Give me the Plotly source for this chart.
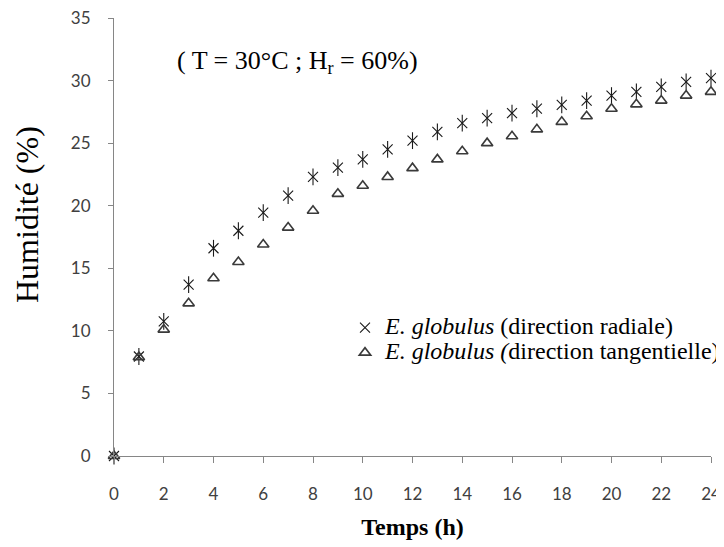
import plotly.graph_objects as go

hours = list(range(0, 25))
radiale = [0.0, 7.95, 10.75, 13.7, 16.6, 18.0, 19.45, 20.8, 22.3, 23.05, 23.7, 24.5,
           25.2, 25.9, 26.6, 27.0, 27.4, 27.75, 28.05, 28.4, 28.8, 29.1, 29.5, 29.9, 30.2]
tangentielle = [0.0, 7.9, 10.1, 12.2, 14.2, 15.5, 16.9, 18.25, 19.6, 20.95, 21.6, 22.3,
                23.0, 23.7, 24.35, 25.0, 25.55, 26.1, 26.7, 27.15, 27.75, 28.1, 28.4, 28.8, 29.1]
x_ticks = list(range(0, 25, 2))
y_ticks = list(range(0, 36, 5))

SPAN = "<span style='font-size:24px'>{}</span>"
name_rad = SPAN.format("<i>E. globulus</i> (direction radiale)")
name_tan = SPAN.format("<i>E. globulus (</i>direction tangentielle)")

# The page body has an 8px default margin, so the figure is drawn 8px in and
# sized to fill the rest of the 724x547 window.
OFF = 8
W, H = 724 - OFF, 547 - OFF
# plot area in window pixels
PL, PR, PT, PB = 114, 711, 18, 456
L, R, T, B = PL - OFF, W - (PR - OFF), PT - OFF, H - (PB - OFF)
PW, PH = PR - PL, PB - PT


def px_x(p):
    return (p - PL) / PW


def px_y(p):
    return (PB - p) / PH


fig = go.Figure()
fig.add_trace(go.Scatter(
    x=hours, y=radiale, mode="markers", name=name_rad, legendgroup="rad",
    marker=dict(symbol="x-thin-open", size=10, color="#1a1a1a",
                line=dict(width=1.1, color="#1a1a1a")),
    cliponaxis=False))
fig.add_trace(go.Scatter(
    x=hours, y=radiale, mode="markers", name=name_rad, legendgroup="rad", showlegend=False,
    marker=dict(symbol="line-ns-open", size=12, color="#1a1a1a",
                line=dict(width=1.1, color="#1a1a1a")),
    cliponaxis=False))
fig.add_trace(go.Scatter(
    x=hours, y=tangentielle, mode="markers", name=name_tan,
    marker=dict(symbol="triangle-up-open", size=10, color="#3a3a3a",
                line=dict(width=1.6, color="#3a3a3a")),
    cliponaxis=False))

fig.add_annotation(
    x=px_x(175), xref="paper", xanchor="left",
    y=px_y(62), yref="paper", yanchor="middle", showarrow=False,
    text="( T = 30°C ; H<sub>r</sub> = 60%)",
    font=dict(family="Liberation Serif", size=26, color="#000000"))

fig.add_annotation(
    x=px_x(27), xref="paper", xanchor="center",
    y=px_y(215), yref="paper", yanchor="middle", showarrow=False,
    textangle=-90, text="Humidité (%)",
    font=dict(family="Liberation Serif", size=32, color="#000000"))

fig.update_layout(
    width=W, height=H,
    margin=dict(l=L, r=R, t=T, b=B, autoexpand=False),
    paper_bgcolor="white", plot_bgcolor="white",
    showlegend=True,
    legend=dict(x=px_x(345), xanchor="left", y=px_y(310), yanchor="top",
                bgcolor="rgba(0,0,0,0)", tracegroupgap=0,
                font=dict(family="Liberation Serif", size=17, color="#000000")),
    xaxis=dict(range=[0, 24], tickmode="array", tickvals=x_ticks, automargin=False,
               ticklabeloverflow="allow",
               showgrid=False, zeroline=False, showline=True, linecolor="#868686", linewidth=1,
               ticks="outside", ticklen=6, tickcolor="#868686", ticklabelstandoff=17,
               tickfont=dict(family="Lato", size=17, color="#404040"),
               title=dict(text="<b>Temps (h)</b>", standoff=14,
                          font=dict(family="Liberation Serif", size=24, color="#000000"))),
    yaxis=dict(range=[0, 35], tickmode="array", tickvals=y_ticks, automargin=False,
               ticklabeloverflow="allow",
               showgrid=False, zeroline=False, showline=True, linecolor="#868686", linewidth=1,
               ticks="outside", ticklen=5, tickcolor="#868686", ticklabelstandoff=14,
               tickfont=dict(family="Lato", size=17, color="#404040")),
)

fig.write_html("out.html")
